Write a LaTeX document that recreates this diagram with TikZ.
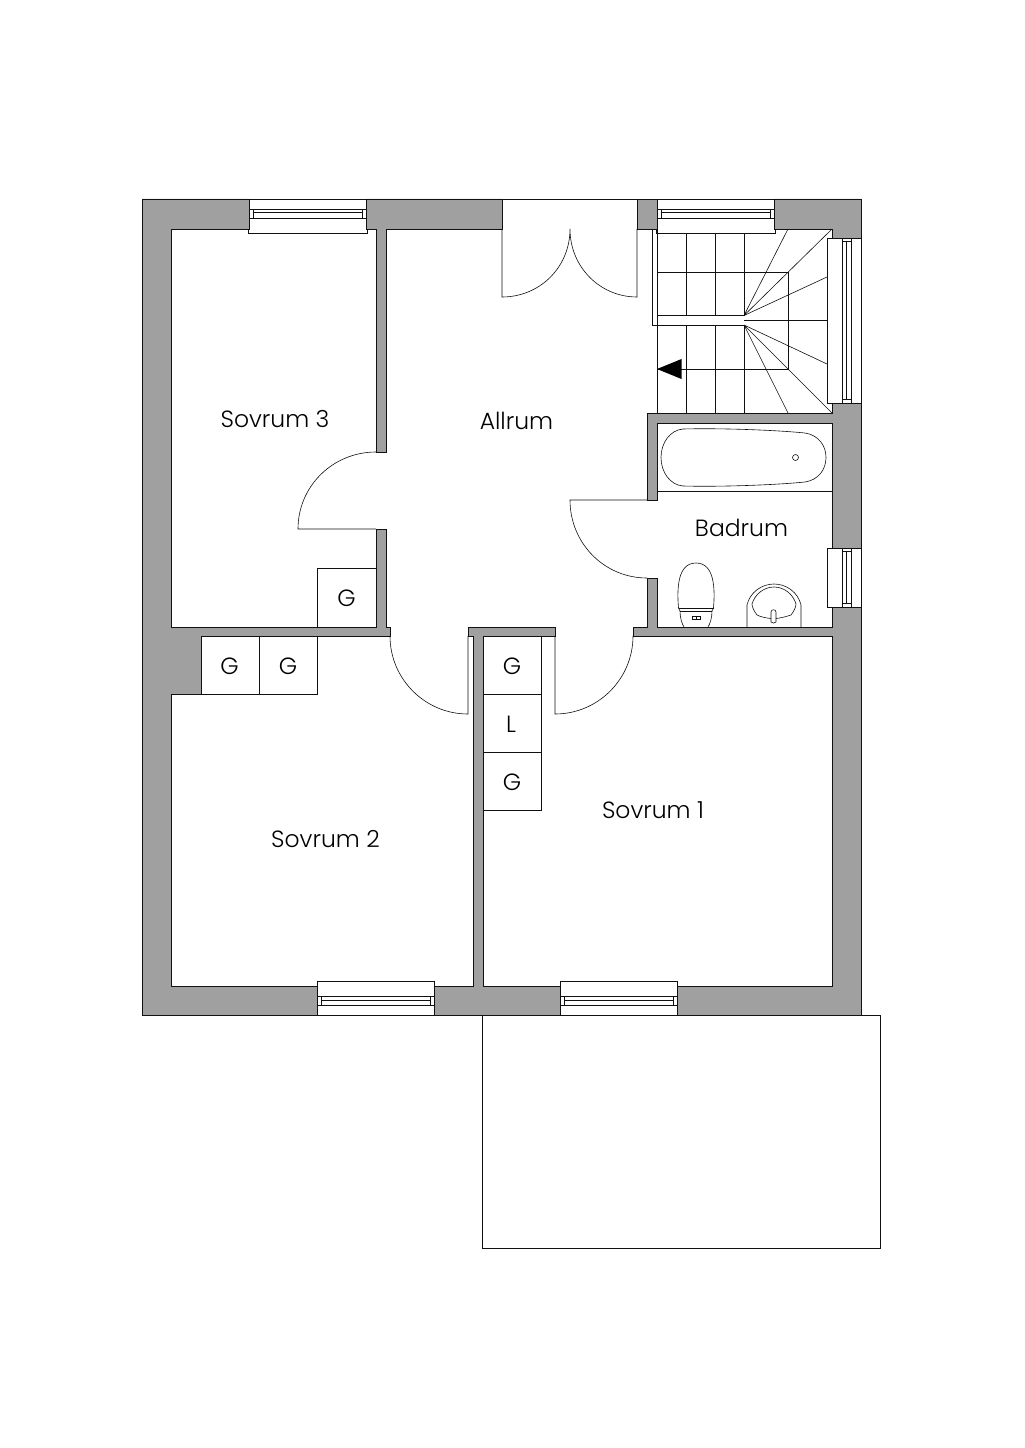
\documentclass[tikz,border=0pt]{standalone}
\usepackage{fontspec}
\setmainfont{Poppins}[UprightFont=* Light]
\definecolor{wallgray}{HTML}{A0A0A0}
\definecolor{ink}{HTML}{111111}
\tikzset{
  wall/.style={fill=wallgray,draw=ink,line width=0.6pt,line join=miter},
  thin line/.style={draw=ink,line width=0.45pt},
  frame line/.style={draw=ink,line width=0.55pt},
  roomlabel/.style={font=\fontsize{17.6}{20}\selectfont,text=black,inner sep=0pt}
}
\begin{document}
\begin{tikzpicture}[x=0.75pt,y=-0.75pt]
\useasboundingbox (0,0) rectangle (1024,1448);
\fill[white] (0,0) rectangle (1024,1448);
% walls
\draw[wall] (249,199) -- (142,199) -- (142,1015) -- (317,1015) -- (317,986) -- (171,986) -- (171,694) -- (201,694) -- (201,636) -- (390,636) -- (390,627) -- (386,627) -- (386,529) -- (376,529) -- (376,627) -- (171,627) -- (171,229) -- (249,229) -- cycle;
\draw[wall] (366,199) -- (502,199) -- (502,229) -- (386,229) -- (386,452) -- (376,452) -- (376,229) -- (366,229) -- cycle;
\draw[wall] (637,199) -- (657,199) -- (657,229) -- (637,229) -- cycle;
\draw[wall] (774,199) -- (861,199) -- (861,238) -- (832,238) -- (832,229) -- (774,229) -- cycle;
\draw[wall] (832,403) -- (861,403) -- (861,548) -- (832,548) -- (832,423) -- (657,423) -- (657,500) -- (647,500) -- (647,413) -- (832,413) -- cycle;
\draw[wall] (832,607) -- (861,607) -- (861,1015) -- (677,1015) -- (677,986) -- (832,986) -- (832,636) -- (633,636) -- (633,627) -- (647,627) -- (647,578) -- (657,578) -- (657,627) -- (832,627) -- cycle;
\draw[wall] (434,1015) -- (560,1015) -- (560,986) -- (483,986) -- (483,636) -- (555,636) -- (555,627) -- (468,627) -- (468,636) -- (473,636) -- (473,986) -- (434,986) -- cycle;
% windows: top
\foreach \xa/\xb in {249/366,657/774}{
  \draw[frame line] (\xa,229) -- (\xa-1,229) -- (\xa-1,233.5) -- (\xb+1,233.5) -- (\xb+1,229);
  \draw[frame line] (\xa,199) -- (\xa,229) (\xb,199) -- (\xb,229) (\xa,199) -- (\xb,199);
  \draw[thin line] (\xa,209.5) rectangle (\xb,218);
  \draw[thin line] (\xa+4,209.5) rectangle (\xb-4,218);
  \draw[thin line] (\xa+4,212.5) -- (\xb-4,212.5);
}
% windows: bottom
\foreach \xa/\xb in {317/434,560/677}{
  \draw[frame line] (\xa,986) -- (\xa,981) -- (\xb,981) -- (\xb,986);
  \draw[frame line] (\xa,986) -- (\xa,1015) -- (\xb,1015) -- (\xb,986);
  \draw[thin line] (\xa,996) rectangle (\xb,1005);
  \draw[thin line] (\xa+4,996) rectangle (\xb-4,1005);
  \draw[thin line] (\xa+4,1000.5) -- (\xb-4,1000.5);
}
% windows: right
\foreach \ya/\yb in {238/403,548/607}{
  \draw[frame line] (832,\ya) -- (827,\ya) -- (827,\yb) -- (832,\yb);
  \draw[frame line] (832,\ya) -- (861,\ya) -- (861,\yb) -- (832,\yb);
  \draw[thin line] (842,\ya) rectangle (851,\yb);
  \draw[thin line] (842,\ya+3.5) rectangle (851,\yb-3.5);
  \draw[thin line] (846,\ya+3.5) -- (846,\yb-3.5);
}
% doors
\draw[thin line] (502,199) -- (637,199);
\draw[thin line] (502,229) -- (502,297) .. controls (540,297) and (570,267) .. (570,229) .. controls (570,267) and (600,297) .. (637,297) -- (637,229);
\draw[thin line] (376,452) .. controls (333,452) and (298,486) .. (298,529) -- (376,529);
\draw[thin line] (390,636) .. controls (390,679) and (425,714) .. (468,714) -- (468,636);
\draw[thin line] (555,636) -- (555,714) .. controls (598,714) and (633,679) .. (633,636);
\draw[thin line] (647,500) -- (570,500) .. controls (570,543) and (604,578) .. (647,578);
% closets
\draw[thin line] (201,636) rectangle (259,694);
\draw[thin line] (259,636) rectangle (317,694);
\draw[thin line] (317,568) rectangle (376,627);
\draw[thin line] (483,636) rectangle (541,694);
\draw[thin line] (483,694) rectangle (541,752);
\draw[thin line] (483,752) rectangle (541,810);
% stairs
\draw[thin line] (657,229) -- (657,413);
\draw[thin line] (652.5,229) -- (652.5,325) -- (744,325);
\draw[thin line] (657,315.5) -- (744,315.5);
\foreach \x in {686,715,744}{
  \draw[thin line] (\x,233.5) -- (\x,315.5) (\x,325) -- (\x,413);
}
\draw[thin line] (657,272) -- (788,272) -- (788,369) -- (657,369);
\draw[thin line] (744,320.5) -- (827,320.5);
\draw[thin line] (744,315.5) -- (788,229) (744,315.5) -- (832,229) (744,315.5) -- (827,277);
\draw[thin line] (744,325) -- (827,364) (744,325) -- (832,413) (744,325) -- (788,413);
\fill[black] (657,369) -- (681.5,359) -- (681.5,379) -- cycle;
% bath
\draw[thin line] (657,491.5) -- (832,491.5);
\draw[thin line] (683,429) .. controls (720,428) and (775,430) .. (805,433) .. controls (818,435) and (826,445) .. (826,457.5) .. controls (826,470) and (818,480) .. (805,482) .. controls (775,485) and (720,487) .. (683,486) .. controls (670,485) and (661,472) .. (661,457.5) .. controls (661,443) and (670,430) .. (683,429) -- cycle;
\draw[thin line] (795.5,457.5) circle[radius=3];
% toilet
\draw[thin line] (678.5,608) .. controls (677,590) and (677,563) .. (696,563) .. controls (715,563) and (715,590) .. (713.5,608);
\draw[thin line] (678.5,608) -- (713.5,608) (680,611) -- (712,611);
\draw[thin line] (678.5,608) -- (680,611) (713.5,608) -- (712,611);
\draw[thin line] (680,611) .. controls (680,618) and (682,624) .. (684,627) (712,611) .. controls (712,618) and (710,624) .. (708,627);
\draw[thin line] (692.5,616) rectangle (700.5,619.5);
\draw[thin line] (696.5,616) -- (696.5,619.5);
% basin
\draw[thin line] (747,627) -- (747,605) .. controls (750,592) and (762,584) .. (774,584) .. controls (786,584) and (798,592) .. (801,605) -- (801,627);
\draw[thin line] (752,604) .. controls (755,594) and (764,587) .. (774,587) .. controls (784,587) and (793,594) .. (796,604) .. controls (796,607) and (794,611) .. (791,615) .. controls (785,617) and (780,618) .. (776,618.5) (771,618.5) .. controls (766,618) and (761,617) .. (757,615) .. controls (754,611) and (752,607) .. (752,604);
\draw[thin line] (771,622) -- (771,612) .. controls (771,609) and (776,609) .. (776,612) -- (776,622) .. controls (775,623.5) and (772,623.5) .. (771,622) -- cycle;
% terrace
\draw[thin line] (482,1015) rectangle (880,1248);
% labels
\node[roomlabel] (s3) at (275,419.5) {Sovrum 3};
\node[roomlabel] (all) at (516.5,420.5) {Allrum};
\node[roomlabel] (bad) at (741.5,527.5) {Badrum};
\node[roomlabel] (s1) at (653,810.5) {Sovrum 1};
\node[roomlabel] (s2) at (325.5,839.5) {Sovrum 2};
\node[roomlabel] (g1) at (346.5,598) {G};
\node[roomlabel] (g2) at (229.5,666) {G};
\node[roomlabel] (g3) at (288,666) {G};
\node[roomlabel] (g4) at (512,666) {G};
\node[roomlabel] (l1) at (511,724.5) {L};
\node[roomlabel] (g5) at (512,782.5) {G};
\end{tikzpicture}
\end{document}
